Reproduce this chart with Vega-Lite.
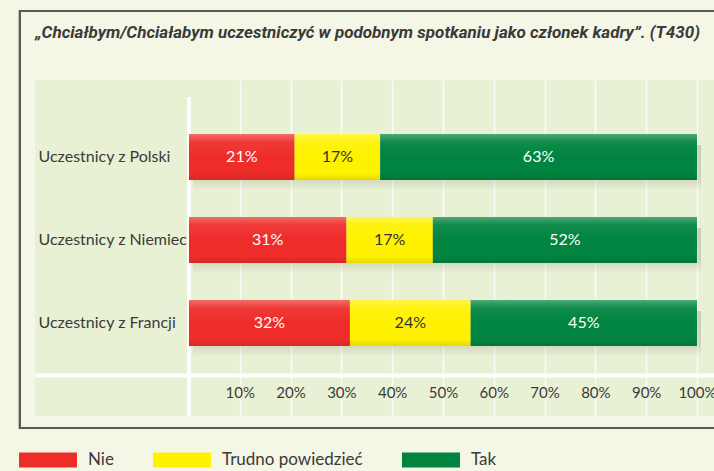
{
  "$schema": "https://vega.github.io/schema/vega-lite/v6.json",
  "width": 679,
  "height": 336,
  "autosize": "none",
  "padding": {"left": 35, "top": 80, "right": 0, "bottom": 55},
  "background": "#f4f7e6",
  "title": {
    "text": "„Chciałbym/Chciałabym uczestniczyć w podobnym spotkaniu jako członek kadry”. (T430)",
    "anchor": "start",
    "frame": "group",
    "font": "Roboto",
    "fontSize": 17,
    "fontStyle": "italic",
    "fontWeight": "bold",
    "color": "#3a3a3a",
    "baseline": "alphabetic",
    "offset": -45
  },
  "config": {
    "font": "Lato",
    "view": {"fill": "#e9f1d4", "stroke": null}
  },
  "data": {
    "values": [
      {"grupa": "Uczestnicy z Polski", "odp": "Nie", "k": 1, "v": 0.21},
      {"grupa": "Uczestnicy z Polski", "odp": "Trudno powiedzieć", "k": 2, "v": 0.17},
      {"grupa": "Uczestnicy z Polski", "odp": "Tak", "k": 3, "v": 0.63},
      {"grupa": "Uczestnicy z Niemiec", "odp": "Nie", "k": 1, "v": 0.31},
      {"grupa": "Uczestnicy z Niemiec", "odp": "Trudno powiedzieć", "k": 2, "v": 0.17},
      {"grupa": "Uczestnicy z Niemiec", "odp": "Tak", "k": 3, "v": 0.52},
      {"grupa": "Uczestnicy z Francji", "odp": "Nie", "k": 1, "v": 0.32},
      {"grupa": "Uczestnicy z Francji", "odp": "Trudno powiedzieć", "k": 2, "v": 0.24},
      {"grupa": "Uczestnicy z Francji", "odp": "Tak", "k": 3, "v": 0.45}
    ]
  },
  "resolve": {"scale": {"y": "independent"}},
  "layer": [
    {
      "mark": {"type": "rect", "fill": null, "stroke": "#5a5a5a", "strokeWidth": 2},
      "encoding": {
        "x": {"datum": -0.3327, "type": "quantitative", "scale": {"domain": [-0.3031, 1.0335], "nice": false, "zero": false}},
        "x2": {"datum": 1.2},
        "y": {"datum": 1.2054, "type": "quantitative", "scale": {"domain": [0, 1], "nice": false, "zero": false}, "axis": null},
        "y2": {"datum": -0.0357}
      }
    },
    {
      "mark": {"type": "rule", "stroke": "white", "strokeWidth": 3},
      "encoding": {
        "x": {"datum": 0, "type": "quantitative", "scale": {"domain": [-0.3031, 1.0335], "nice": false, "zero": false}},
        "y": {"datum": 0.9494, "type": "quantitative", "scale": {"domain": [0, 1], "nice": false, "zero": false}, "axis": null},
        "y2": {"datum": 0}
      }
    },
    {
      "layer": [
        {
          "mark": {
            "type": "bar",
            "yOffset": 11,
            "xOffset": 4,
            "fill": {
              "gradient": "linear", "x1": 0, "y1": 0, "x2": 0, "y2": 1,
              "stops": [
                {"offset": 0, "color": "rgba(70,70,40,0.20)"},
                {"offset": 0.7, "color": "rgba(70,70,40,0.17)"},
                {"offset": 1, "color": "rgba(70,70,40,0)"}
              ]
            }
          },
          "encoding": {"detail": {"field": "odp"}}
        },
        {
          "mark": {"type": "bar"},
          "encoding": {
            "color": {
              "field": "odp",
              "type": "nominal",
              "scale": {"domain": ["Nie", "Trudno powiedzieć", "Tak"], "range": ["#ee2d2b", "#fff200", "#00843f"]},
              "legend": {
                "title": null,
                "orient": "none",
                "legendX": -16,
                "legendY": 351,
                "direction": "horizontal",
                "columns": 3,
                "columnPadding": 39,
                "symbolType": "M-1,-0.26H1V0.26H-1Z",
                "symbolSize": 3364,
                "symbolStrokeWidth": 0,
                "symbolOpacity": 1,
                "labelFontSize": 17,
                "labelColor": "#3a3a3a",
                "labelOffset": 11,
                "labelFont": "Lato"
              }
            }
          }
        },
        {
          "mark": {
            "type": "bar",
            "fill": {
              "gradient": "linear", "x1": 0, "y1": 0, "x2": 0, "y2": 1,
              "stops": [
                {"offset": 0, "color": "rgba(255,255,255,0.30)"},
                {"offset": 0.18, "color": "rgba(255,255,255,0.06)"},
                {"offset": 0.5, "color": "rgba(255,255,255,0)"},
                {"offset": 0.85, "color": "rgba(0,0,0,0)"},
                {"offset": 1, "color": "rgba(0,0,0,0.10)"}
              ]
            }
          },
          "encoding": {"detail": {"field": "odp"}}
        },
        {
          "mark": {"type": "text", "fontSize": 16, "font": "Lato"},
          "encoding": {
            "x": {"field": "v", "type": "quantitative", "stack": "normalize", "bandPosition": 0.5, "scale": {"domain": [-0.3031, 1.0335], "nice": false, "zero": false}},
            "detail": {"field": "odp"},
            "text": {"field": "v", "type": "quantitative", "format": ".0%"},
            "color": {"condition": {"test": "datum.odp === 'Trudno powiedzieć'", "value": "#333333"}, "value": "white"}
          }
        }
      ],
      "encoding": {
        "x": {
          "field": "v",
          "type": "quantitative",
          "stack": "normalize",
          "scale": {"domain": [-0.3031, 1.0335], "nice": false, "zero": false},
          "axis": {
            "orient": "bottom",
            "title": null,
            "offset": -41,
            "values": [0.1, 0.2, 0.3, 0.4, 0.5, 0.6, 0.7, 0.8, 0.9, 1],
            "format": ".0%",
            "ticks": false,
            "domainColor": "white",
            "domainWidth": 4,
            "labelFontSize": 15,
            "labelColor": "#3a3a3a",
            "labelPadding": 10,
            "labelFont": "Lato",
            "grid": true,
            "gridColor": "white",
            "gridWidth": 1.5,
            "gridOpacity": 0.8
          }
        },
        "y": {
          "field": "grupa",
          "type": "nominal",
          "sort": ["Uczestnicy z Polski", "Uczestnicy z Niemiec", "Uczestnicy z Francji"],
          "scale": {"paddingInner": 0.446, "paddingOuter": 0.747, "align": 0.435},
          "axis": {
            "orient": "left",
            "title": null,
            "domain": false,
            "ticks": false,
            "labelAlign": "left",
            "labelPadding": -3,
            "labelFontSize": 16,
            "labelColor": "#3a3a3a",
            "labelFont": "Lato"
          }
        },
        "order": {"field": "k"}
      }
    }
  ]
}
